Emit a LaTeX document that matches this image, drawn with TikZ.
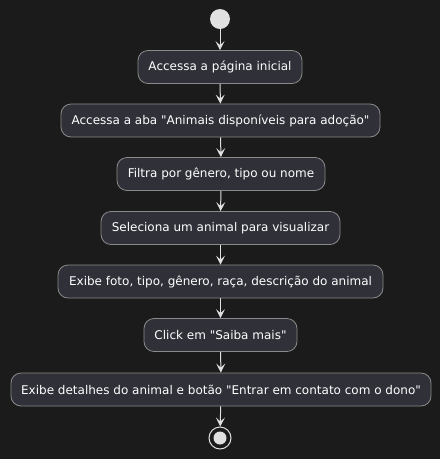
\documentclass[tikz,border=0pt]{standalone}
\usepackage{fontspec}
\setmainfont{DejaVu Sans}
\usetikzlibrary{arrows.meta}
\definecolor{bg}{HTML}{1B1B1B}
\definecolor{boxfill}{HTML}{2F3038}
\definecolor{boxline}{HTML}{8A8A8A}
\definecolor{fg}{HTML}{E0E0E0}
\newcommand{\q}{\textquotedbl}
\begin{document}
\begin{tikzpicture}[x=1pt,y=-1pt,
  act/.style={draw=boxline, fill=boxfill, rounded corners=10pt, line width=0.8pt,
    minimum height=33pt, inner xsep=0pt, text=white, font=\fontsize{12}{14}\selectfont},
  flow/.style={draw=fg, line width=1pt, -{Stealth[length=9pt,width=9pt,inset=4pt]}}]
\fill[bg] (0,0) rectangle (440,459);
\useasboundingbox (0,0) rectangle (440,459);
\node[circle, fill=fg, minimum size=20pt, inner sep=0pt] (s) at (220,19) {};
\node[act, minimum width=164pt] (a1) at (220,67) {Accessa a página inicial};
\node[act, minimum width=319pt] (a2) at (220.5,120.5) {Accessa a aba \q Animais disponíveis para adoção\q};
\node[act, minimum width=208pt] (a3) at (221,174) {Filtra por gênero, tipo ou nome};
\node[act, minimum width=239pt] (a4) at (220.5,228) {Seleciona um animal para visualizar};
\node[act, minimum width=325pt] (a5) at (220.5,281.5) {Exibe foto, tipo, gênero, raça, descrição do animal};
\node[act, minimum width=153pt] (a6) at (220.5,335) {Click em \q Saiba mais\q};
\node[act, minimum width=420pt] (a7) at (221,389.5) {Exibe detalhes do animal e botão \q Entrar em contato com o dono\q};
\node[circle, draw=fg, line width=1pt, minimum size=22pt, inner sep=0pt] (e) at (220,438) {};
\fill[fg] (e.center) circle (6.5pt);
\draw[flow] (s) -- (a1);
\draw[flow] (a1) -- (a2);
\draw[flow] (a2) -- (a3);
\draw[flow] (a3) -- (a4);
\draw[flow] (a4) -- (a5);
\draw[flow] (a5) -- (a6);
\draw[flow] (a6) -- (a7);
\draw[flow] (a7) -- (e);
\end{tikzpicture}
\end{document}
